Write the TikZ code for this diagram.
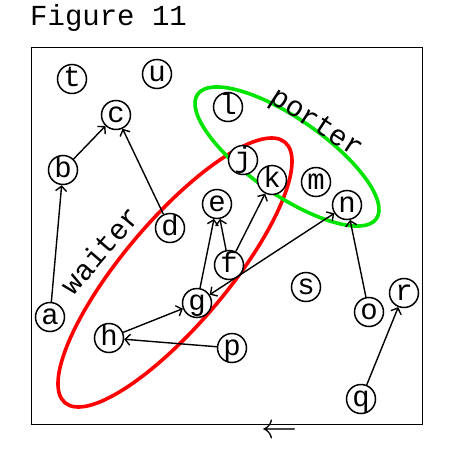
\documentclass[tikz,border=0pt]{standalone}
\usepackage{fontspec}
\usepackage{graphicx}
\setmonofont{Liberation Mono}
\usetikzlibrary{arrows.meta}
\definecolor{portergreen}{RGB}{0,228,0}

\begin{document}
\begin{tikzpicture}[x=1pt, y=-1pt, >={Straight Barb[length=5pt,width=11pt]},
  font=\fontsize{29}{34}\selectfont\ttfamily,
  person/.style={circle, draw, fill=white, line width=1.5pt, minimum size=29pt,
    inner sep=0pt, text height=15pt, text depth=0pt},
  link/.style={->, line width=1.4pt},
  group/.style={line width=3.6pt}]
  \useasboundingbox (0,0) rectangle (450,450);

  \node[anchor=base west, inner sep=0pt] (title) at (30,25) {Figure 11};
  \draw[line width=1pt] (31,47) rectangle (422,424);

  % groups
  \draw[group, red, rotate around={49.8:(175,272.5)}]
    (175,272.5) ellipse[x radius=170.5pt, y radius=52pt];
  \draw[group, portergreen, rotate around={-34.8:(287,156.5)}]
    (287,156.5) ellipse[x radius=108.9pt, y radius=38pt];
  \node[rotate=49.5, inner sep=0pt] (waiter) at (100,250) {waiter};
  \node[rotate=-33, inner sep=0pt] (porter) at (316,124) {porter};

  % people
  \node[person] (t) at (72,79) {t};
  \node[person] (u) at (157,74) {u};
  \node[person] (c) at (116,115) {c};
  \node[person] (l) at (228,107) {l};
  \node[person] (b) at (63,170) {b};
  \node[person] (j) at (243,160) {j};
  \node[person] (k) at (272,180) {k};
  \node[person] (m) at (316,182) {m};
  \node[person] (n) at (347,205) {n};
  \node[person] (e) at (217,204) {e};
  \node[person] (d) at (170,228) {d};
  \node[person] (f) at (229,265) {f};
  \node[person] (s) at (306,287) {s};
  \node[person] (g) at (197,303) {g};
  \node[person] (a) at (50,317) {a};
  \node[person] (o) at (369,312) {o};
  \node[person] (r) at (404,293) {r};
  \node[person] (h) at (109,338) {h};
  \node[person] (p) at (232,348) {p};
  \node[person] (q) at (361,399) {q};

  % links
  \draw[link] (a) -- (b);
  \draw[link] (b) -- (c);
  \draw[link] (d) -- (c);
  \draw[link] (f) -- (e);
  \draw[link] (g) -- (e);
  \draw[link] (f) -- (k);
  \draw[link, <->] (g) -- (n);
  \draw[link] (o) -- (n);
  \draw[link] (h) -- (g);
  \draw[link] (p) -- (h);
  \draw[link] (q) -- (r);

  \node[font=\Huge, inner sep=0pt] (back) at (280,432) {\scalebox{1.45}{$\leftarrow$}};
\end{tikzpicture}
\end{document}
